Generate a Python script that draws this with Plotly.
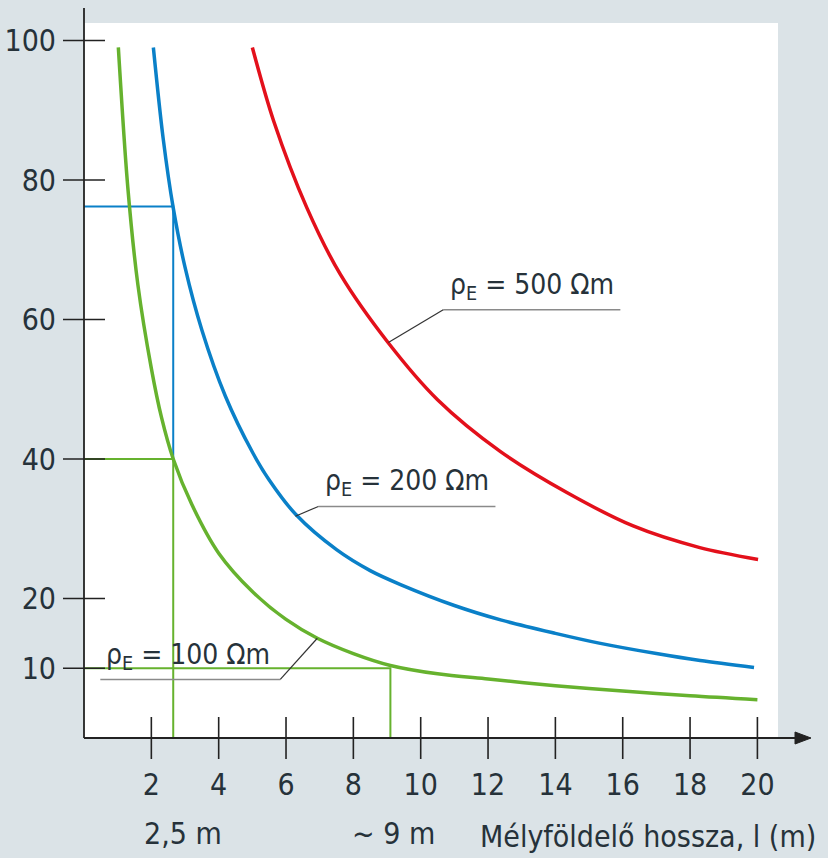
import plotly.graph_objects as go

# ---- data ----
l_100 = [1.02, 1.3, 1.6, 2.0, 2.3, 2.65, 3.2, 4.0, 5.0, 6.0, 6.93, 8.0, 9.1, 10.5, 12.0, 14.0, 16.0, 18.0, 20.0]
r_100 = [99.0, 79.0, 65.0, 53.0, 46.0, 40.0, 33.5, 26.5, 21.0, 17.0, 14.3, 12.1, 10.4, 9.2, 8.45, 7.5, 6.75, 6.05, 5.5]

l_200 = [2.06, 2.35, 2.65, 3.0, 3.5, 4.2, 5.0, 5.5, 6.3, 7.5, 8.5, 9.4, 11.0, 12.4, 14.0, 15.3, 17.0, 18.3, 19.9]
r_200 = [99.0, 86.0, 76.0, 67.5, 58.5, 49.0, 41.0, 37.0, 32.0, 27.0, 24.0, 22.0, 19.0, 16.9, 15.0, 13.6, 12.1, 11.1, 10.1]

l_500 = [5.0, 5.63, 6.62, 7.61, 9.03, 10.5, 12.36, 14.34, 16.31, 18.29, 20.02]
r_500 = [99.0, 88.5, 76.0, 66.5, 56.7, 48.5, 41.1, 35.2, 30.4, 27.3, 25.6]

x_ticks = [2, 4, 6, 8, 10, 12, 14, 16, 18, 20]
y_ticks = [10, 20, 40, 60, 80, 100]

l_read_a = 2.65   # "2,5 m"
r_read_blue = 76.2
r_read_green = 40.0
l_read_b = 9.1    # "~ 9 m"
r_read_b = 10.0

GREEN = "#66b22e"
BLUE = "#0a80c8"
RED = "#e3101b"
BG = "#dbe3e7"
TXT = "#26323a"
FONT = "DejaVu Sans Condensed, Liberation Sans Narrow, sans-serif"

# plot area in pixels (figure is placed at page origin)
PL, PR, PT, PB = 84, 50, 23, 120
W, H = 828, 858
PW, PH = W - PL - PR, H - PT - PB


def px_x(p):
    return (p - PL) / PW


def px_y(p):
    return (H - PB - p) / PH


fig = go.Figure()

# reference lines
fig.add_trace(go.Scatter(x=[0, l_read_a, l_read_a], y=[r_read_blue, r_read_blue, r_read_green],
                         mode="lines", line=dict(color=BLUE, width=2), hoverinfo="skip"))
fig.add_trace(go.Scatter(x=[0, l_read_a, l_read_a], y=[r_read_green, r_read_green, 0],
                         mode="lines", line=dict(color=GREEN, width=2), hoverinfo="skip"))
fig.add_trace(go.Scatter(x=[0, l_read_b, l_read_b], y=[r_read_b, r_read_b, 0],
                         mode="lines", line=dict(color=GREEN, width=2), hoverinfo="skip"))

# curves
for lx, ry, c in [(l_100, r_100, GREEN), (l_200, r_200, BLUE), (l_500, r_500, RED)]:
    fig.add_trace(go.Scatter(x=lx, y=ry, mode="lines",
                             line=dict(color=c, width=3.5, shape="spline", smoothing=0.9)))

# crossing tick marks
fig.add_trace(go.Scatter(x=x_ticks, y=[0] * len(x_ticks), mode="markers", cliponaxis=False,
                         marker=dict(symbol="line-ns", size=30, line=dict(color="#222", width=1.6)),
                         hoverinfo="skip"))
fig.add_trace(go.Scatter(x=[0] * len(y_ticks), y=y_ticks, mode="markers", cliponaxis=False,
                         marker=dict(symbol="line-ew", size=30, line=dict(color="#222", width=1.6)),
                         hoverinfo="skip"))

shapes = [
    # y axis line (extends above plot)
    dict(type="line", xref="paper", yref="paper", x0=0, x1=0, y0=0, y1=px_y(8),
         line=dict(color="#222", width=1.8)),
    # x axis line
    dict(type="line", xref="paper", yref="paper", x0=0, x1=px_x(798), y0=0, y1=0,
         line=dict(color="#222", width=1.8)),
    # arrow head
    dict(type="path", xref="paper", yref="paper",
         path="M {a},{b} L {c},0 L {a},{d} Z".format(a=px_x(795), b=6 / PH, c=px_x(811), d=-6 / PH),
         fillcolor="#222", line=dict(color="#222", width=1)),
]

# label underlines and leaders
labels = [
    # (text, text_x, text_y, ul_x0, ul_x1, ul_y, leader_from_x, leader_x, leader_y)
    ("ρ<sub>E</sub> = 500 Ωm", 10.8, 64.8, 10.67, 15.93, 61.4, 10.67, 9.04, 56.7),
    ("ρ<sub>E</sub> = 200 Ωm", 7.1, 36.6, 6.96, 12.22, 33.2, 6.96, 6.28, 31.8),
    ("ρ<sub>E</sub> = 100 Ωm", 0.58, 11.7, 0.485, 5.83, 8.4, 5.83, 6.93, 14.3),
]
annotations = []
for t, tx, ty, ux0, ux1, uy, lfx, lx, ly in labels:
    shapes.append(dict(type="line", xref="x", yref="y", x0=ux0, x1=ux1, y0=uy, y1=uy,
                       line=dict(color="#8a8a8a", width=1.5)))
    shapes.append(dict(type="line", xref="x", yref="y", x0=lfx, x1=lx, y0=uy, y1=ly,
                       line=dict(color="#333", width=1.2)))
    annotations.append(dict(x=tx, y=ty, xref="x", yref="y", text=t, showarrow=False,
                            xanchor="left", yanchor="middle",
                            font=dict(family=FONT, size=28, color=TXT)))

for txt, cx, cy in [("2,5 m", 183, 833), ("~ 9 m", 393, 833), ("Mélyföldelő hossza, l (m)", 648, 836)]:
    annotations.append(dict(x=px_x(cx), y=px_y(cy), xref="paper", yref="paper", text=txt,
                            showarrow=False, xanchor="center", yanchor="middle",
                            font=dict(family=FONT, size=30, color=TXT)))

fig.update_layout(
    width=W, height=H,
    margin=dict(l=PL, r=PR, t=PT, b=PB, pad=0),
    paper_bgcolor=BG, plot_bgcolor="white",
    showlegend=False,
    shapes=shapes, annotations=annotations,
    xaxis=dict(range=[0, PW / 33.67], tickvals=x_ticks, ticks="", showgrid=False, zeroline=False,
               showline=False, ticklabelstandoff=26, automargin=False,
               tickfont=dict(family=FONT, size=30, color=TXT)),
    yaxis=dict(range=[0, PH / 6.975], tickvals=y_ticks, ticks="", showgrid=False, zeroline=False,
               showline=False, ticklabelstandoff=27, automargin=False,
               tickfont=dict(family=FONT, size=30, color=TXT)),
)

fig.write_html("out.html", config={"displayModeBar": False},
               post_script="document.body.style.margin='0';document.body.style.backgroundColor='%s';" % BG)
